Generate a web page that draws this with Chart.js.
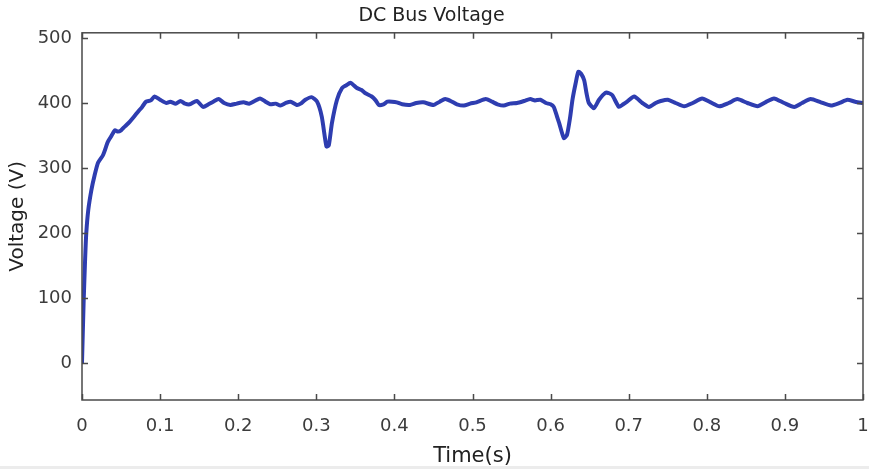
<!DOCTYPE html>
<html>
<head>
<meta charset="utf-8">
<script src="https://cdn.jsdelivr.net/npm/chart.js@4.4.1/dist/chart.umd.min.js"></script>
<style>
  html, body { margin: 0; padding: 0; background: #fff; }
  canvas { display: block; }
</style>
</head>
<body>
<canvas id="busChart" width="869" height="469"></canvas>
<script>
// время, с
var timeS = [
  0, 0.002, 0.004, 0.0055, 0.008, 0.012, 0.016, 0.0205, 0.027, 0.033,
  0.037, 0.042, 0.046, 0.050, 0.055, 0.061, 0.066, 0.072, 0.077, 0.082,
  0.088, 0.093, 0.100, 0.108, 0.113, 0.120, 0.126, 0.132, 0.138, 0.147,
  0.155, 0.162, 0.168, 0.175, 0.182, 0.190, 0.198, 0.207, 0.214, 0.221,
  0.228, 0.235, 0.241, 0.248, 0.254, 0.261, 0.267, 0.275, 0.280, 0.286,
  0.294, 0.301, 0.307, 0.313, 0.316, 0.320, 0.3265, 0.333, 0.338, 0.344,
  0.352, 0.358, 0.363, 0.371, 0.376, 0.380, 0.386, 0.391, 0.397, 0.403,
  0.410, 0.420, 0.428, 0.437, 0.450, 0.458, 0.465, 0.472, 0.480, 0.489,
  0.497, 0.505, 0.517, 0.525, 0.532, 0.540, 0.548, 0.557, 0.566, 0.574,
  0.580, 0.587, 0.594, 0.600, 0.604, 0.608, 0.611, 0.617, 0.621, 0.625,
  0.628, 0.632, 0.6355, 0.639, 0.643, 0.646, 0.649, 0.6555, 0.662, 0.6705,
  0.675, 0.679, 0.6875, 0.693, 0.698, 0.707, 0.7175, 0.726, 0.7345, 0.741,
  0.750, 0.760, 0.771, 0.782, 0.794, 0.805, 0.816, 0.828, 0.839, 0.852,
  0.865, 0.875, 0.886, 0.899, 0.912, 0.922, 0.933, 0.946, 0.959, 0.970,
  0.980, 0.990, 1.0
];

// напряжение шины, В
var voltageV = [
  0, 90, 160, 200, 235, 266, 288, 308, 320, 340,
  348, 358, 356, 358, 364, 371, 378, 387, 394, 402,
  404, 410, 405, 400, 402, 399, 403, 399, 398, 403,
  394, 398, 402, 406, 400, 397, 399, 401, 399, 403,
  407, 402, 398, 399, 396, 400, 402, 397, 399, 405,
  409, 402, 379, 333, 335, 369, 405, 423, 427, 431,
  423, 420, 415, 410, 404, 397, 398, 402, 402, 401,
  398, 397, 400, 401, 397, 402, 406, 403, 398, 396,
  399, 401, 406, 402, 398, 396, 399, 400, 403, 406,
  404, 405, 400, 398, 394, 380, 369, 346, 351, 378,
  405, 430, 448, 445, 435, 415, 400, 392, 405, 416,
  415, 412, 394, 398, 402, 410, 400, 394, 400, 403,
  405, 400, 395, 400, 407, 401, 395, 400, 406, 400,
  395, 401, 407, 400, 394, 400, 406, 401, 396, 400,
  405, 402, 400
];

var xTickValues = [0, 0.1, 0.2, 0.3, 0.4, 0.5, 0.6, 0.7, 0.8, 0.9, 1];
var yTickValues = [0, 100, 200, 300, 400, 500];

var points = timeS.map(function(t, i) {
  return { x: t, y: voltageV[i] };
});

// рамка и внутренние засечки как в MATLAB
var matlabBox = {
  id: 'matlabBox',
  afterDatasetsDraw: function(chart) {
    var ctx = chart.ctx;
    var a = chart.chartArea;
    var xs = chart.scales.x;
    var ys = chart.scales.y;
    ctx.save();
    ctx.strokeStyle = '#4a4a4a';
    ctx.lineWidth = 1.5;
    ctx.beginPath();
    xTickValues.forEach(function(v) {
      var px = Math.round(xs.getPixelForValue(v)) + 0.5;
      ctx.moveTo(px, a.bottom); ctx.lineTo(px, a.bottom - 6);
      ctx.moveTo(px, a.top); ctx.lineTo(px, a.top + 6);
    });
    yTickValues.forEach(function(v) {
      var py = Math.round(ys.getPixelForValue(v)) + 0.5;
      ctx.moveTo(a.left, py); ctx.lineTo(a.left + 6, py);
      ctx.moveTo(a.right, py); ctx.lineTo(a.right - 6, py);
    });
    ctx.stroke();
    ctx.strokeRect(a.left, a.top, a.right - a.left, a.bottom - a.top);
    ctx.fillStyle = '#ececec';
    ctx.fillRect(0, 466, chart.width, 3);
    ctx.restore();
  }
};

function noLabelPadding(scale) {
  scale.paddingLeft = 0;
  scale.paddingRight = 0;
  scale.paddingTop = 0;
  scale.paddingBottom = 0;
}

var tickFont = { family: 'DejaVu Sans', size: 18 };

new Chart(document.getElementById('busChart'), {
  type: 'line',
  data: {
    datasets: [{
      data: points,
      borderColor: '#2e3db0',
      borderWidth: 4,
      pointRadius: 0,
      fill: false,
      tension: 0.2
    }]
  },
  options: {
    responsive: false,
    animation: false,
    devicePixelRatio: 1,
    layout: { padding: { left: 0, right: 6, top: 0, bottom: 0 } },
    plugins: {
      legend: { display: false },
      tooltip: { enabled: false },
      title: {
        display: true,
        text: 'DC Bus Voltage',
        color: '#222',
        font: { family: 'DejaVu Sans', size: 19, weight: 'normal' },
        padding: { top: 5, bottom: 5 }
      }
    },
    scales: {
      x: {
        type: 'linear',
        min: 0,
        max: 1,
        grid: { display: false, drawTicks: false },
        border: { display: false },
        afterBuildTicks: function(scale) {
          scale.ticks = xTickValues.map(function(v) { return { value: v }; });
        },
        afterFit: function(scale) {
          scale.height = 69;
          noLabelPadding(scale);
        },
        ticks: {
          color: '#3c3c3c',
          font: tickFont,
          padding: 16,
          maxRotation: 0,
          autoSkip: false,
          callback: function(v) {
            return (v === 0 || v === 1) ? String(v) : v.toFixed(1);
          }
        },
        title: {
          display: true,
          text: 'Time(s)',
          color: '#222',
          font: { family: 'DejaVu Sans', size: 21 },
          padding: { top: 0, bottom: 0 }
        }
      },
      y: {
        min: -57,
        max: 508,
        grid: { display: false, drawTicks: false },
        border: { display: false },
        afterBuildTicks: function(scale) {
          scale.ticks = yTickValues.map(function(v) { return { value: v }; });
        },
        afterFit: function(scale) {
          scale.width = 82;
          noLabelPadding(scale);
        },
        ticks: {
          color: '#3c3c3c',
          font: tickFont,
          padding: 10
        },
        title: {
          display: true,
          text: 'Voltage (V)',
          color: '#222',
          font: { family: 'DejaVu Sans', size: 20 },
          padding: { top: 6, bottom: 0 }
        }
      }
    }
  },
  plugins: [matlabBox]
});
</script>
</body>
</html>
